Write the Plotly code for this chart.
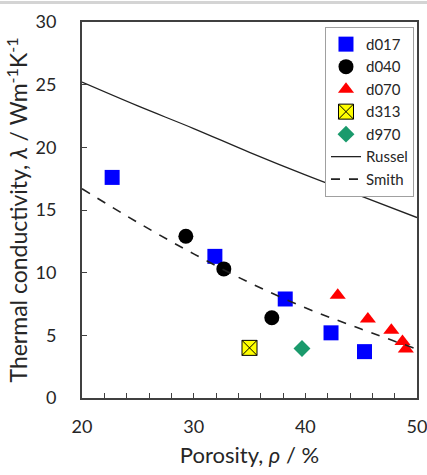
import plotly.graph_objects as go

# ---- data ----
d017_x = [22.7, 31.9, 38.2, 42.3, 45.3]
d017_y = [17.6, 11.3, 7.9, 5.2, 3.7]

d040_x = [29.3, 32.7, 37.0]
d040_y = [12.9, 10.3, 6.4]

d070_x = [42.9, 45.6, 47.7, 48.7, 49.0]
d070_y = [8.2, 6.3, 5.4, 4.5, 3.9]

d313_x = [35.0]
d313_y = [4.0]

d970_x = [39.7]
d970_y = [3.95]

russel_x = [20, 25, 30, 35, 40, 45, 50]
russel_y = [25.2, 23.3, 21.5, 19.6, 17.8, 16.1, 14.4]

smith_x = [20, 25, 30, 35, 40, 45, 50]
smith_y = [16.7, 14.0, 11.5, 9.2, 7.2, 5.5, 3.9]

x_ticks = [20, 30, 40, 50]
y_ticks = [0, 5, 10, 15, 20, 25, 30]

FONT = "Lato"
TXT = "#262626"
AX = "#404040"

fig = go.Figure()
fig.add_trace(go.Scatter(x=d017_x, y=d017_y, mode="markers", name="d017",
                         marker=dict(symbol="square", size=15, color="#0000ff")))
fig.add_trace(go.Scatter(x=d040_x, y=d040_y, mode="markers", name="d040",
                         marker=dict(symbol="circle", size=15, color="#000000")))
fig.add_trace(go.Scatter(x=d070_x, y=d070_y, mode="markers", name="d070",
                         marker=dict(symbol="triangle-up", size=14, color="#ff0000")))
fig.add_trace(go.Scatter(x=d313_x, y=d313_y, mode="markers", name="d313",
                         marker=dict(symbol="square-x", size=15, color="#ffff00",
                                     line=dict(color="#000000", width=1))))
fig.add_trace(go.Scatter(x=d970_x, y=d970_y, mode="markers", name="d970",
                         marker=dict(symbol="diamond", size=13, color="#1a9a6c")))
fig.add_trace(go.Scatter(x=russel_x, y=russel_y, mode="lines", name="Russel",
                         line=dict(color="#222222", width=1.3, shape="spline")))
fig.add_trace(go.Scatter(x=smith_x, y=smith_y, mode="lines", name="Smith",
                         line=dict(color="#222222", width=1.6, dash="dash", shape="spline")))

fig.update_layout(
    width=427, height=475,
    margin=dict(l=82, r=10, t=22, b=77),
    paper_bgcolor="white", plot_bgcolor="white",
    font=dict(family=FONT, size=18, color=TXT),
    showlegend=True,
    legend=dict(x=0.991, y=0.987, xanchor="right", yanchor="top",
                bordercolor="#a0a0a0", borderwidth=1, bgcolor="white",
                font=dict(family=FONT, size=15, color=TXT),
                tracegroupgap=0),
    xaxis=dict(range=[20, 50], tickvals=x_ticks, ticktext=[str(v) for v in x_ticks],
               ticks="inside", ticklen=5, tickcolor=AX, automargin=False,
               tickfont=dict(size=18), ticklabeloverflow="allow",
               minor=dict(dtick=2, ticks="inside", ticklen=5, tickcolor=AX),
               showline=True, linecolor=AX, linewidth=2, mirror=True,
               showgrid=False, zeroline=False, ticklabelstandoff=11,
               title=dict(text="Porosity, <i>ρ</i> / %", font=dict(size=22, family=FONT, color=TXT),
                          standoff=12)),
    yaxis=dict(range=[0, 30], tickvals=y_ticks, ticktext=[str(v) for v in y_ticks],
               ticks="inside", ticklen=5, tickcolor=AX, automargin=False,
               tickfont=dict(size=18), ticklabeloverflow="allow",
               showline=True, linecolor=AX, linewidth=2, mirror=True,
               showgrid=False, zeroline=False, ticklabelstandoff=20,
               title=dict(text="Thermal conductivity, <i>λ</i> / Wm<sup>-1</sup>K<sup>-1</sup>",
                          font=dict(size=23, family=FONT, color=TXT), standoff=1)),
    shapes=[dict(type="line", xref="paper", yref="paper", x0=-0.3, x1=1.1,
                 y0=1.052, y1=1.052, line=dict(color="#d4d4d4", width=3))],
)

fig.write_html("out.html", config={"displayModeBar": False},
               post_script="document.body.style.margin='0';document.body.style.overflow='hidden';")
